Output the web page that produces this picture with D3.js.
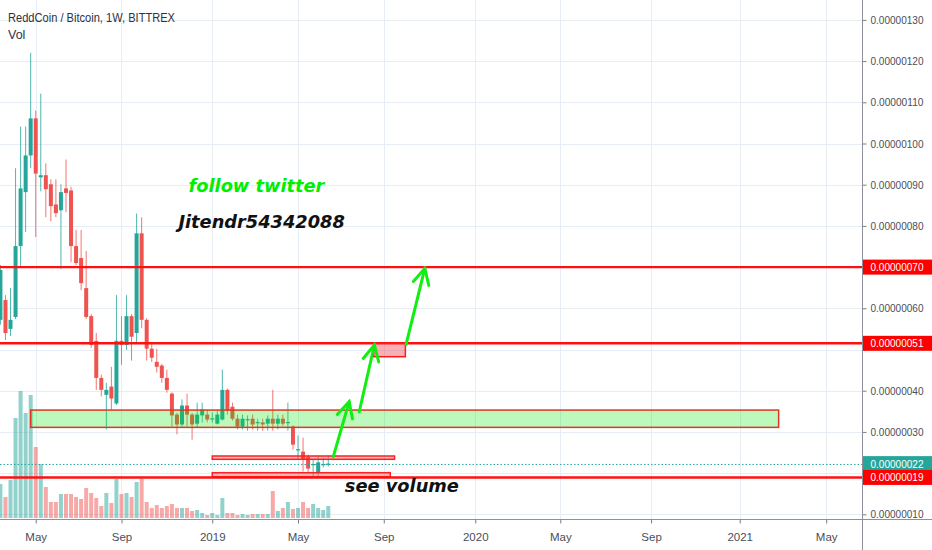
<!DOCTYPE html>
<html><head><meta charset="utf-8">
<script src="https://cdn.jsdelivr.net/npm/d3@7"></script>
<style>body{margin:0;background:#fff;}svg{display:block;}</style>
</head><body>
<svg id="chart" width="932" height="550"></svg>
<script>
// ---- Data (prices in satoshi = 1e-8 BTC) ----
const dates = ["2018-03-12","2018-03-19","2018-03-26","2018-04-02","2018-04-09","2018-04-16","2018-04-23","2018-04-30","2018-05-07","2018-05-14","2018-05-21","2018-05-28","2018-06-04","2018-06-11","2018-06-18","2018-06-25","2018-07-02","2018-07-09","2018-07-16","2018-07-23","2018-07-30","2018-08-06","2018-08-13","2018-08-20","2018-08-27","2018-09-03","2018-09-10","2018-09-17","2018-09-24","2018-10-01","2018-10-08","2018-10-15","2018-10-22","2018-10-29","2018-11-05","2018-11-12","2018-11-19","2018-11-26","2018-12-03","2018-12-10","2018-12-17","2018-12-24","2018-12-31","2019-01-07","2019-01-14","2019-01-21","2019-01-28","2019-02-04","2019-02-11","2019-02-18","2019-02-25","2019-03-04","2019-03-11","2019-03-18","2019-03-25","2019-04-01","2019-04-08","2019-04-15","2019-04-22","2019-04-29","2019-05-06","2019-05-13","2019-05-20","2019-05-27","2019-06-03","2019-06-10"];
const opens  = [57.2,62.0,55.0,57.9,75.1,88.2,97.1,106.1,91.8,92.3,90.1,85.2,83.8,89.1,88.6,75.1,72.2,64.9,58.1,52.1,43.1,39.0,41.0,36.9,52.1,51.1,58.1,54.0,78.2,57.2,50.2,47.0,46.1,43.1,39.3,34.2,31.8,36.4,34.2,32.0,34.0,34.2,33.1,32.0,33.0,40.2,36.1,33.2,31.3,32.9,33.2,32.2,32.3,32.0,33.2,32.0,33.2,32.2,31.3,25.6,25.2,24.0,22.0,20.2,22.0,22.1];
const highs  = [70.5,63.2,64.9,94.0,104.1,104.1,122.0,108.0,112.1,95.2,91.3,91.3,90.1,96.1,89.5,79.0,79.0,73.9,58.6,54.0,43.9,41.9,45.8,63.2,58.1,63.2,58.6,83.0,82.1,57.6,51.8,50.2,46.5,45.1,39.6,34.6,37.9,39.3,34.6,37.1,37.1,35.4,34.7,35.2,45.1,40.5,37.1,34.2,34.2,34.0,34.2,33.2,33.2,34.0,40.2,34.2,34.2,37.1,31.6,29.1,28.6,24.5,23.3,24.3,23.8,24.3];
const lows   = [56.0,52.3,53.3,57.4,70.2,78.5,94.0,77.3,88.4,82.1,81.1,82.1,69.5,83.3,71.2,70.5,64.4,57.4,50.4,40.2,38.6,30.6,35.4,36.5,46.3,49.9,47.3,51.4,55.2,47.3,47.0,44.4,41.9,39.5,31.3,29.4,31.0,31.3,28.1,31.0,32.3,32.3,32.3,31.8,32.8,34.2,32.7,30.6,30.6,30.3,30.6,30.3,30.3,30.3,30.3,30.6,31.5,30.3,25.7,23.3,20.4,20.2,19.2,19.2,21.4,21.6];
const closes = [69.3,54.0,57.2,75.1,89.1,97.1,106.1,92.7,92.3,88.9,84.8,83.1,88.2,88.0,75.1,71.0,66.1,57.9,51.1,43.1,40.2,40.2,38.1,52.1,51.1,58.1,53.1,78.2,57.2,50.2,48.0,45.8,43.1,40.2,34.0,31.8,36.4,34.2,31.8,34.2,35.4,33.0,33.3,34.2,40.2,35.2,33.2,31.3,33.2,33.1,31.8,32.4,31.8,33.2,32.0,33.2,32.0,32.4,26.9,25.8,23.3,21.1,22.2,22.6,22.2,22.3];
const volumes = [34,21,38,100,127,105,123,71,54,31,16,16,24,24,24,21,19,30,25,20,12,25,15,39,24,25,21,36,39,16,10,13,10,12,14,10,10,10,7,8,5,3,5,3,20,5,5,3,4,3,4,4,4,4,27,7,10,16,9,10,16,10,14,10,8,12];

const priceTicks = [10,20,30,40,50,60,70,80,90,100,110,120,130];
const timeTickDates  = ["2018-04-30","2018-08-27","2018-12-31","2019-04-29","2019-08-26","2019-12-31","2020-04-27","2020-08-31","2021-01-01","2021-05-01"];
const timeTickLabels = ["May","Sep","2019","May","Sep","2020","May","Sep","2021","May"];

const levelValues = [70, 51.5, 18.95];
const levelLabels = ["0.00000070","0.00000051","0.00000019"];
const lastPrice = 22.3, lastPriceLabel = "0.00000022";

// drawings (date / price anchors)
const zoneBox   = {start:"2018-04-23", end:"2021-02-24", top:35.3, bottom:31.1};
const thinBoxes = [{start:"2018-12-31", end:"2019-09-10", top:24.15, bottom:23.35},
                   {start:"2018-12-31", end:"2019-09-04", top:20.1,  bottom:19.13}];
const pinkBox   = {start:"2019-08-12", end:"2019-09-25", top:51.5, bottom:48.25};
const arrowStartDates = ["2019-06-17","2019-07-23","2019-09-26"];
const arrowStartVals  = [23.98, 34.9, 51.26];
const arrowEndDates   = ["2019-07-09","2019-08-13","2019-10-22"];
const arrowEndVals    = [37.33, 51.1, 69.7];
const noteTexts = ["follow twitter","Jitendr54342088","see volume"];
const noteDates = ["2018-11-28","2018-11-14","2019-07-03"];
const noteVals  = [88.3, 79.4, 15.3];
const noteColors = ["#00ee00","#111111","#111111"];

// ---- Drawing ----
const svg = d3.select("#chart");
const parse = d3.utcParse("%Y-%m-%d");
const plotR = 862, plotB = 519;
const x = d3.scaleUtc().domain([parse("2018-03-11"), parse("2021-06-20")]).range([-0.3, 862.2]);
const y = d3.scaleLinear().domain([10,130]).range([514.3,19.9]);
const yv = d3.scaleLinear().domain([0,127]).range([518,391]);
const UP="#26a69a", DN="#ef5350";
const font = "'Liberation Sans', Arial, sans-serif";

const bars = dates.map((d,i)=>({d:parse(d),o:opens[i],h:highs[i],l:lows[i],c:closes[i],v:volumes[i]}));

// grid
const grid = svg.append("g");
grid.selectAll(".hg").data(priceTicks).join("line")
  .attr("x1",0).attr("x2",plotR).attr("y1",d=>Math.round(y(d))+0.5).attr("y2",d=>Math.round(y(d))+0.5)
  .attr("stroke","#e6edf4").attr("stroke-width",1);
grid.selectAll(".vg").data(timeTickDates).join("line")
  .attr("y1",0).attr("y2",plotB).attr("x1",d=>Math.round(x(parse(d)))+0.5).attr("x2",d=>Math.round(x(parse(d)))+0.5)
  .attr("stroke","#e6edf4").attr("stroke-width",1);

// volume
svg.append("g").selectAll("rect").data(bars).join("rect")
  .attr("x",d=>x(d.d)-2).attr("width",4)
  .attr("y",d=>yv(d.v)).attr("height",d=>yv(0)-yv(d.v))
  .attr("fill",d=>d.c>=d.o?"rgba(38,166,154,0.5)":"rgba(239,83,80,0.5)");

// candles
const cg = svg.append("g");
cg.selectAll("line").data(bars).join("line")
  .attr("x1",d=>x(d.d)).attr("x2",d=>x(d.d)).attr("y1",d=>y(d.h)).attr("y2",d=>y(d.l))
  .attr("stroke",d=>d.c>=d.o?UP:DN).attr("stroke-width",1).attr("opacity",0.8);
cg.selectAll("rect").data(bars).join("rect")
  .attr("x",d=>x(d.d)-2).attr("width",4)
  .attr("y",d=>y(Math.max(d.o,d.c)))
  .attr("height",d=>Math.max(1.2,Math.abs(y(d.o)-y(d.c))))
  .attr("fill",d=>d.c>=d.o?UP:DN);

// drawings
const dg = svg.append("g");
dg.append("rect").attr("x",x(parse(zoneBox.start))).attr("width",x(parse(zoneBox.end))-x(parse(zoneBox.start)))
  .attr("y",y(zoneBox.top)).attr("height",y(zoneBox.bottom)-y(zoneBox.top))
  .attr("fill","rgba(0,230,0,0.26)").attr("stroke","#e03522").attr("stroke-width",1.5);
dg.selectAll(".tb").data(thinBoxes).join("rect")
  .attr("x",d=>x(parse(d.start))).attr("width",d=>x(parse(d.end))-x(parse(d.start)))
  .attr("y",d=>y(d.top)).attr("height",d=>y(d.bottom)-y(d.top))
  .attr("fill","rgba(255,60,60,0.35)").attr("stroke","#ff2020").attr("stroke-width",1.5);
// level lines
dg.selectAll(".lv").data(levelValues).join("line")
  .attr("x1",0).attr("x2",plotR).attr("y1",d=>y(d)).attr("y2",d=>y(d))
  .attr("stroke","#ff1010").attr("stroke-width",2.4);
// last price dotted
dg.append("line").attr("x1",0).attr("x2",plotR).attr("y1",y(22.1)).attr("y2",y(22.1))
  .attr("stroke",UP).attr("stroke-width",1).attr("stroke-dasharray","1.5,2");
dg.append("rect").attr("x",x(parse(pinkBox.start))).attr("width",x(parse(pinkBox.end))-x(parse(pinkBox.start)))
  .attr("y",y(pinkBox.top)).attr("height",y(pinkBox.bottom)-y(pinkBox.top))
  .attr("fill","rgba(240,80,90,0.45)").attr("stroke","#ff1a1a").attr("stroke-width",1.5);

// arrows
const ag = svg.append("g").attr("stroke","#11ee11").attr("stroke-width",3).attr("stroke-linecap","round").attr("fill","none");
arrowStartDates.forEach((s,i)=>{
  const x0=x(parse(s)), y0=y(arrowStartVals[i]), x1=x(parse(arrowEndDates[i])), y1=y(arrowEndVals[i]);
  ag.append("line").attr("x1",x0).attr("y1",y0).attr("x2",x1).attr("y2",y1);
  const ang=Math.atan2(y0-y1,x0-x1), L=17.5, a=27*Math.PI/180;
  ag.append("polyline").attr("points",[
    [x1+L*Math.cos(ang+a), y1+L*Math.sin(ang+a)],[x1,y1],[x1+L*Math.cos(ang-a), y1+L*Math.sin(ang-a)]].map(p=>p.join(",")).join(" "));
});

// notes
svg.append("g").selectAll("text").data(noteTexts).join("text")
  .attr("x",(d,i)=>x(parse(noteDates[i]))).attr("y",(d,i)=>y(noteVals[i]))
  .attr("fill",(d,i)=>noteColors[i])
  .style("font-family","'DejaVu Sans', Verdana, sans-serif").style("font-weight","bold").style("font-style","italic")
  .style("font-size","17.8px").text(d=>d);

// title
svg.append("text").attr("x",8).attr("y",21.7).attr("fill","#2f323b").style("font-family",font).style("font-size","12.5px")
  .attr("textLength",167).attr("lengthAdjust","spacingAndGlyphs").text("ReddCoin / Bitcoin, 1W, BITTREX");
svg.append("text").attr("x",8).attr("y",39.3).attr("fill","#2f323b").style("font-family",font).style("font-size","12.5px").text("Vol");

// axes
svg.append("rect").attr("x",plotR).attr("y",0).attr("width",932-plotR).attr("height",550).attr("fill","#fff");
svg.append("rect").attr("x",0).attr("y",plotB).attr("width",932).attr("height",550-plotB).attr("fill","#fff");

// price labels (boxes on the axis)
const labs = [{v:levelValues[0],t:levelLabels[0],c:"#ff0000"},{v:levelValues[1],t:levelLabels[1],c:"#ff0000"},
              {v:lastPrice,t:lastPriceLabel,c:UP},{v:levelValues[2],t:levelLabels[2],c:"#ff0000"}];
// tick labels hidden behind a price box are not drawn
const covered = v => labs.some(l => Math.abs(y(l.v)-y(v)) < 10);

const yAxis = svg.append("g").attr("transform",`translate(${plotR+0.5},0)`)
  .call(d3.axisRight(y).tickValues(priceTicks).tickSize(4).tickPadding(4).tickFormat(v=>(v*1e-8).toFixed(8)));
yAxis.select(".domain").remove();
yAxis.selectAll("line").attr("stroke","#787b86");
yAxis.selectAll(".tick").filter(v=>covered(v)).select("text").remove();
yAxis.selectAll("text").attr("fill","#4a4e59").style("font-family",font).style("font-size","11px")
  .attr("textLength",53).attr("lengthAdjust","spacingAndGlyphs");

const xAxis = svg.append("g").attr("transform",`translate(0,${plotB+0.5})`)
  .call(d3.axisBottom(x).tickValues(timeTickDates.map(parse)).tickSize(4).tickPadding(9)
    .tickFormat((d,i)=>timeTickLabels[i]));
xAxis.select(".domain").remove();
xAxis.selectAll("line").attr("stroke","#787b86");
xAxis.selectAll("text").attr("fill","#4a4e59").style("font-family",font).style("font-size","11.5px");

svg.append("line").attr("x1",0).attr("x2",932).attr("y1",plotB+0.5).attr("y2",plotB+0.5).attr("stroke","#8d909a");
svg.append("line").attr("x1",plotR+0.5).attr("x2",plotR+0.5).attr("y1",0).attr("y2",550).attr("stroke","#8d909a");

const lg = svg.append("g").selectAll("g").data(labs).join("g").attr("transform",d=>`translate(${plotR+1},${y(d.v)})`);
lg.append("rect").attr("x",0).attr("y",-7.5).attr("width",932-plotR).attr("height",15).attr("fill",d=>d.c);
lg.append("text").attr("x",7.5).attr("y",4).attr("fill","#fff").style("font-family",font).style("font-size","11px")
  .attr("textLength",53).attr("lengthAdjust","spacingAndGlyphs").text(d=>d.t);
</script>
</body></html>
